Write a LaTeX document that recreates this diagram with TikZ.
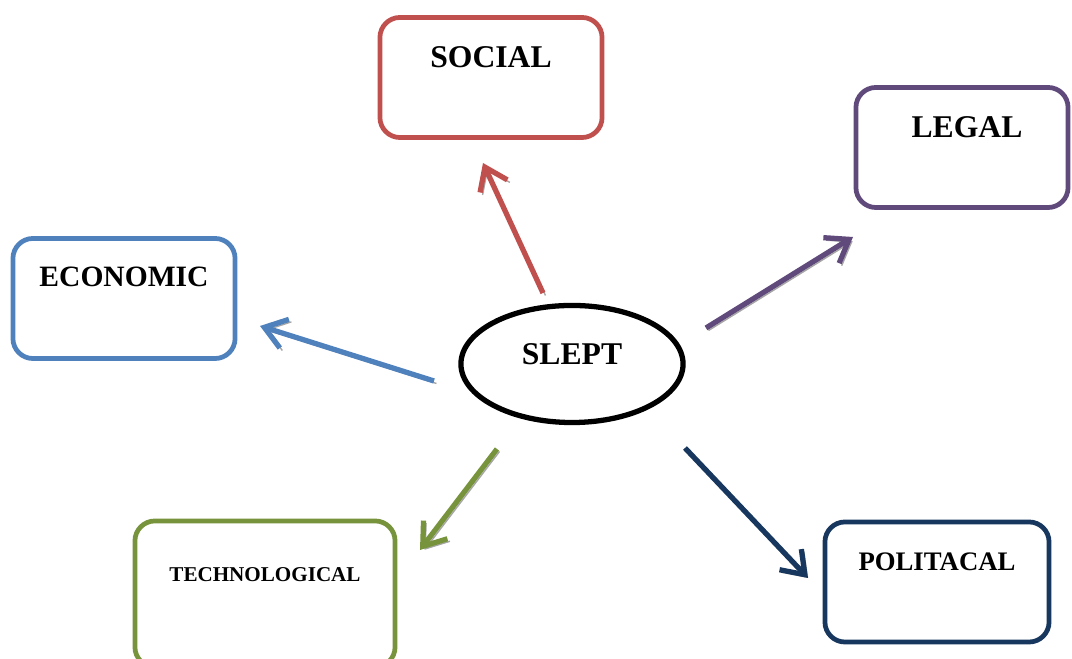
\documentclass[tikz,border=0pt]{standalone}
\usepackage{fontspec}
\setmainfont{Liberation Serif}
\usepackage{tikz}
\usetikzlibrary{shapes.geometric, % for the ellipse
                calc, % for relative coord calculations
                arrows.meta, % for barb tips
                positioning}

\definecolor{socialred}{RGB}{192,80,77}
\definecolor{legalpurple}{RGB}{96,74,123}
\definecolor{econblue}{RGB}{79,129,189}
\definecolor{techgreen}{RGB}{119,147,60}
\definecolor{politnavy}{RGB}{23,55,94}

\begin{document}
\begin{tikzpicture}[x=0.01cm, y=-0.01cm,
                    Box/.style={draw, line width=1.35pt, rounded corners=0.2cm, minimum width=2.22cm, minimum height=1.2cm},
                    Title/.style={font=\bfseries\fontsize{9}{10}\selectfont, inner sep=0pt},
                    Arrow/.style={-{Straight Barb[length=0.21cm, width=0.3cm]}, line width=1.5pt,
                                  preaction={draw=gray!70, transform canvas={shift={(0.025cm,-0.025cm)}}}}
                    ]
    \useasboundingbox (0,0) rectangle (1072,659);

    % CENTRE %
    \node[draw, ellipse, line width=1.5pt, minimum width=2.22cm, minimum height=1.17cm] (slept) at (572,364) {};
    \node[Title] (slepttxt) at ($(slept)+(0,-10)$) {SLEPT};

    % BOXES %
    \node[Box, draw=socialred] (social) at (491,77.5) {};
    \node[Title] (socialtxt) at ($(social.north)+(0,42)$) {SOCIAL};

    \node[Box, draw=legalpurple, minimum width=2.12cm] (legal) at (962,147.5) {};
    \node[Title] (legaltxt) at ($(legal.north)+(5,42)$) {LEGAL};

    \node[Box, draw=econblue] (economic) at (124,298.5) {};
    \node[Title, font=\bfseries\fontsize{8.4}{10}\selectfont] (economictxt) at ($(economic.north)+(0,41)$) {ECONOMIC};

    \node[Box, draw=techgreen, minimum width=2.6cm, minimum height=1.46cm] (technological) at (265,594) {};
    \node[Title, font=\bfseries\fontsize{6}{7}\selectfont] (technologicaltxt) at ($(technological.north)+(0,56)$) {TECHNOLOGICAL};

    \node[Box, draw=politnavy, minimum width=2.24cm] (politacal) at (937,582) {};
    \node[Title, font=\bfseries\fontsize{7.6}{9}\selectfont] (politacaltxt) at ($(politacal.north)+(0,42)$) {POLITACAL};

    % ARROWS %
    \coordinate (social-s) at (543,293);        \coordinate (social-e) at (483,163);
    \coordinate (legal-s) at (706,328);         \coordinate (legal-e) at (853,237);
    \coordinate (economic-s) at (434,381);      \coordinate (economic-e) at (260,326);
    \coordinate (technological-s) at (497,449); \coordinate (technological-e) at (420,550);
    \coordinate (politacal-s) at (685,448);     \coordinate (politacal-e) at (808,578);

    \foreach \n/\c in {social/socialred, legal/legalpurple, economic/econblue, technological/techgreen, politacal/politnavy}
    \draw[Arrow, draw=\c] (\n-s) -- (\n-e);

\end{tikzpicture}
\end{document}
